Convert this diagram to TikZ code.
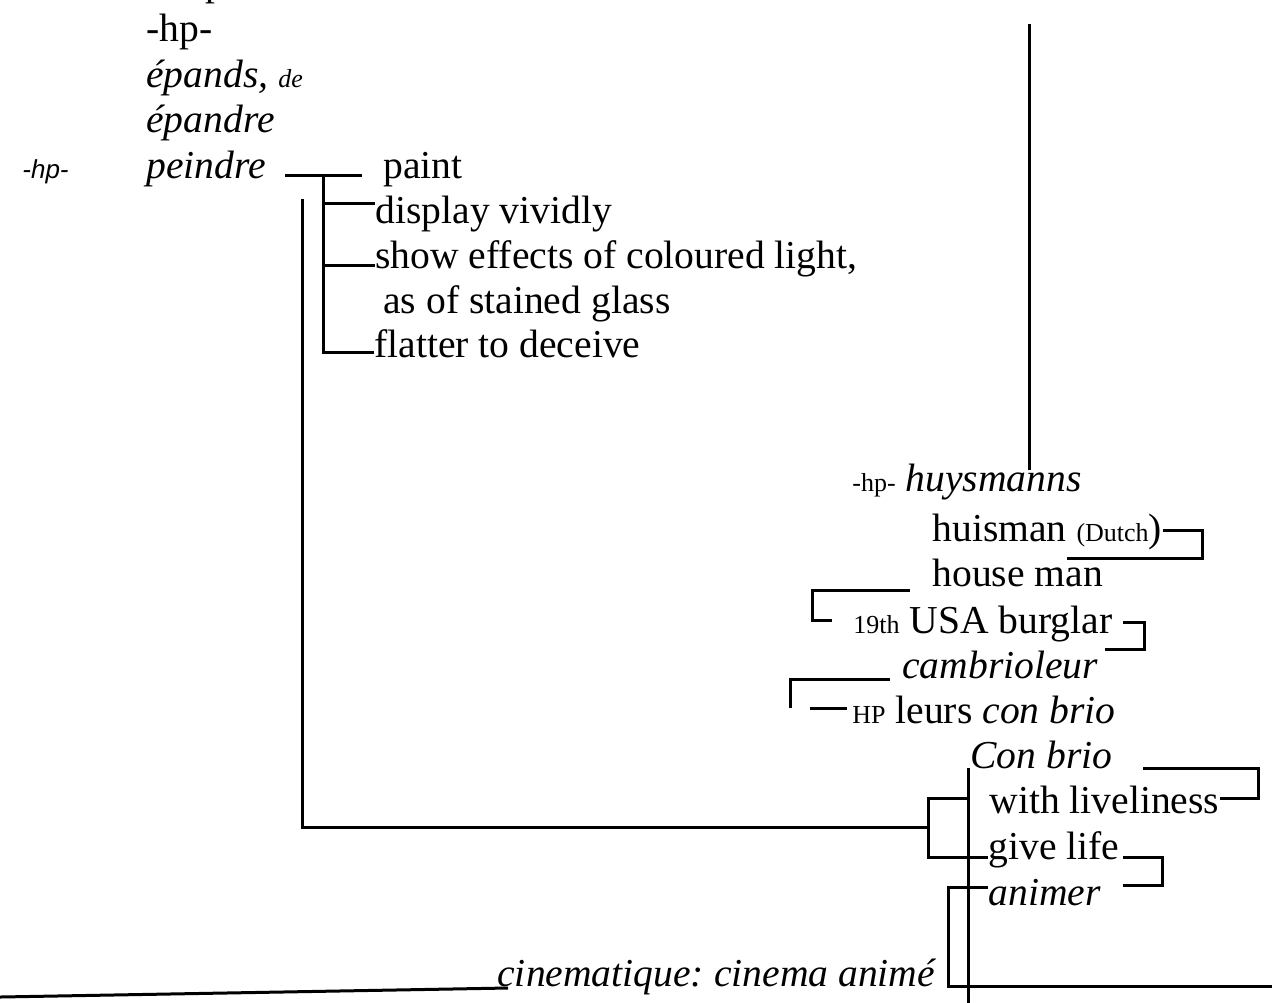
\documentclass[tikz,border=0pt]{standalone}
\usepackage{fontspec}
\setmainfont{Liberation Serif}
\newfontfamily\sansf{Liberation Sans}
\newcommand{\smf}{\fontsize{13}{15}\selectfont}
\frenchspacing
\begin{document}
\begin{tikzpicture}[x=0.5pt,y=-0.5pt,
  txt/.style={anchor=base west,inner sep=0pt,font=\fontsize{19.8}{22}\selectfont},
  sm/.style={anchor=base west,inner sep=0pt,font=\smf},
  ln/.style={line width=1.5pt}]
\useasboundingbox (0,0) rectangle (1272,1002);
% left column
\node[txt] (ptop) at (205,-5) {p};
\node[txt] (hp1) at (146,41) {-hp-};
\node[txt] (epands) at (146,87) {\itshape épands, {\smf de}};
\node[txt] (epandre) at (146,132) {\itshape épandre};
\node[sm] (hpl) at (22,178) {\sansf\itshape -hp-};
\node[txt] (peindre) at (146,178) {\itshape peindre};
\node[txt] (paint) at (383,178) {paint};
\node[txt] (display) at (375,223) {display vividly};
\node[txt] (show) at (375,268) {show effects of coloured light,};
\node[txt] (asof) at (383,313) {as of stained glass};
\node[txt] (flatter) at (374,357) {flatter to deceive};
% peindre branches
\draw[ln] (285,175) -- (362,175);
\draw[ln] (323,175) -- (323,352) -- (374,352);
\draw[ln] (323,203) -- (375,203);
\draw[ln] (323,265) -- (375,265);
% long connector
\draw[ln] (302,199) -- (302,827) -- (928,827);
\draw[ln] (968,798) -- (928,798) -- (928,857) -- (988,857);
\draw[ln] (968,768) -- (968,1010);
\draw[ln] (988,887) -- (948,887) -- (948,986) -- (1272,986);
% right column
\draw[ln] (1029,24) -- (1029,470);
\node[txt] (huys) at (852,491) {{\smf -hp-} \itshape huysmanns};
\node[txt] (huisman) at (932,541) {huisman {\smf(Dutch})};
\draw[ln] (1163,530) -- (1202,530) -- (1202,558) -- (1067,558);
\node[txt] (houseman) at (932,586) {house man};
\draw[ln] (910,590) -- (812,590) -- (812,620) -- (832,620);
\node[txt] (burglar) at (853,633) {{\smf 19th} USA burglar};
\draw[ln] (1123,622) -- (1144,622) -- (1144,649) -- (1105,649);
\node[txt] (cambr) at (902,678) {\itshape cambrioleur};
\draw[ln] (890,679) -- (790,679) -- (790,708);
\draw[ln] (810,708) -- (847,708);
\node[txt] (leurs) at (852,723) {{\smf HP} leurs \textit{con brio}};
\node[txt] (conbrio) at (970,768) {\itshape Con brio};
\draw[ln] (1143,768) -- (1258,768) -- (1258,798) -- (1220,798);
\node[txt] (lively) at (989,813) {with liveliness};
\node[txt] (givelife) at (988,859) {give life};
\draw[ln] (1123,857) -- (1162,857) -- (1162,885) -- (1123,885);
\node[txt] (animer) at (988,905) {\itshape animer};
% bottom
\node[txt] (cine) at (497,986) {\itshape cinematique: cinema animé};
\draw[ln] (0,997) -- (508,988);
\end{tikzpicture}
\end{document}
